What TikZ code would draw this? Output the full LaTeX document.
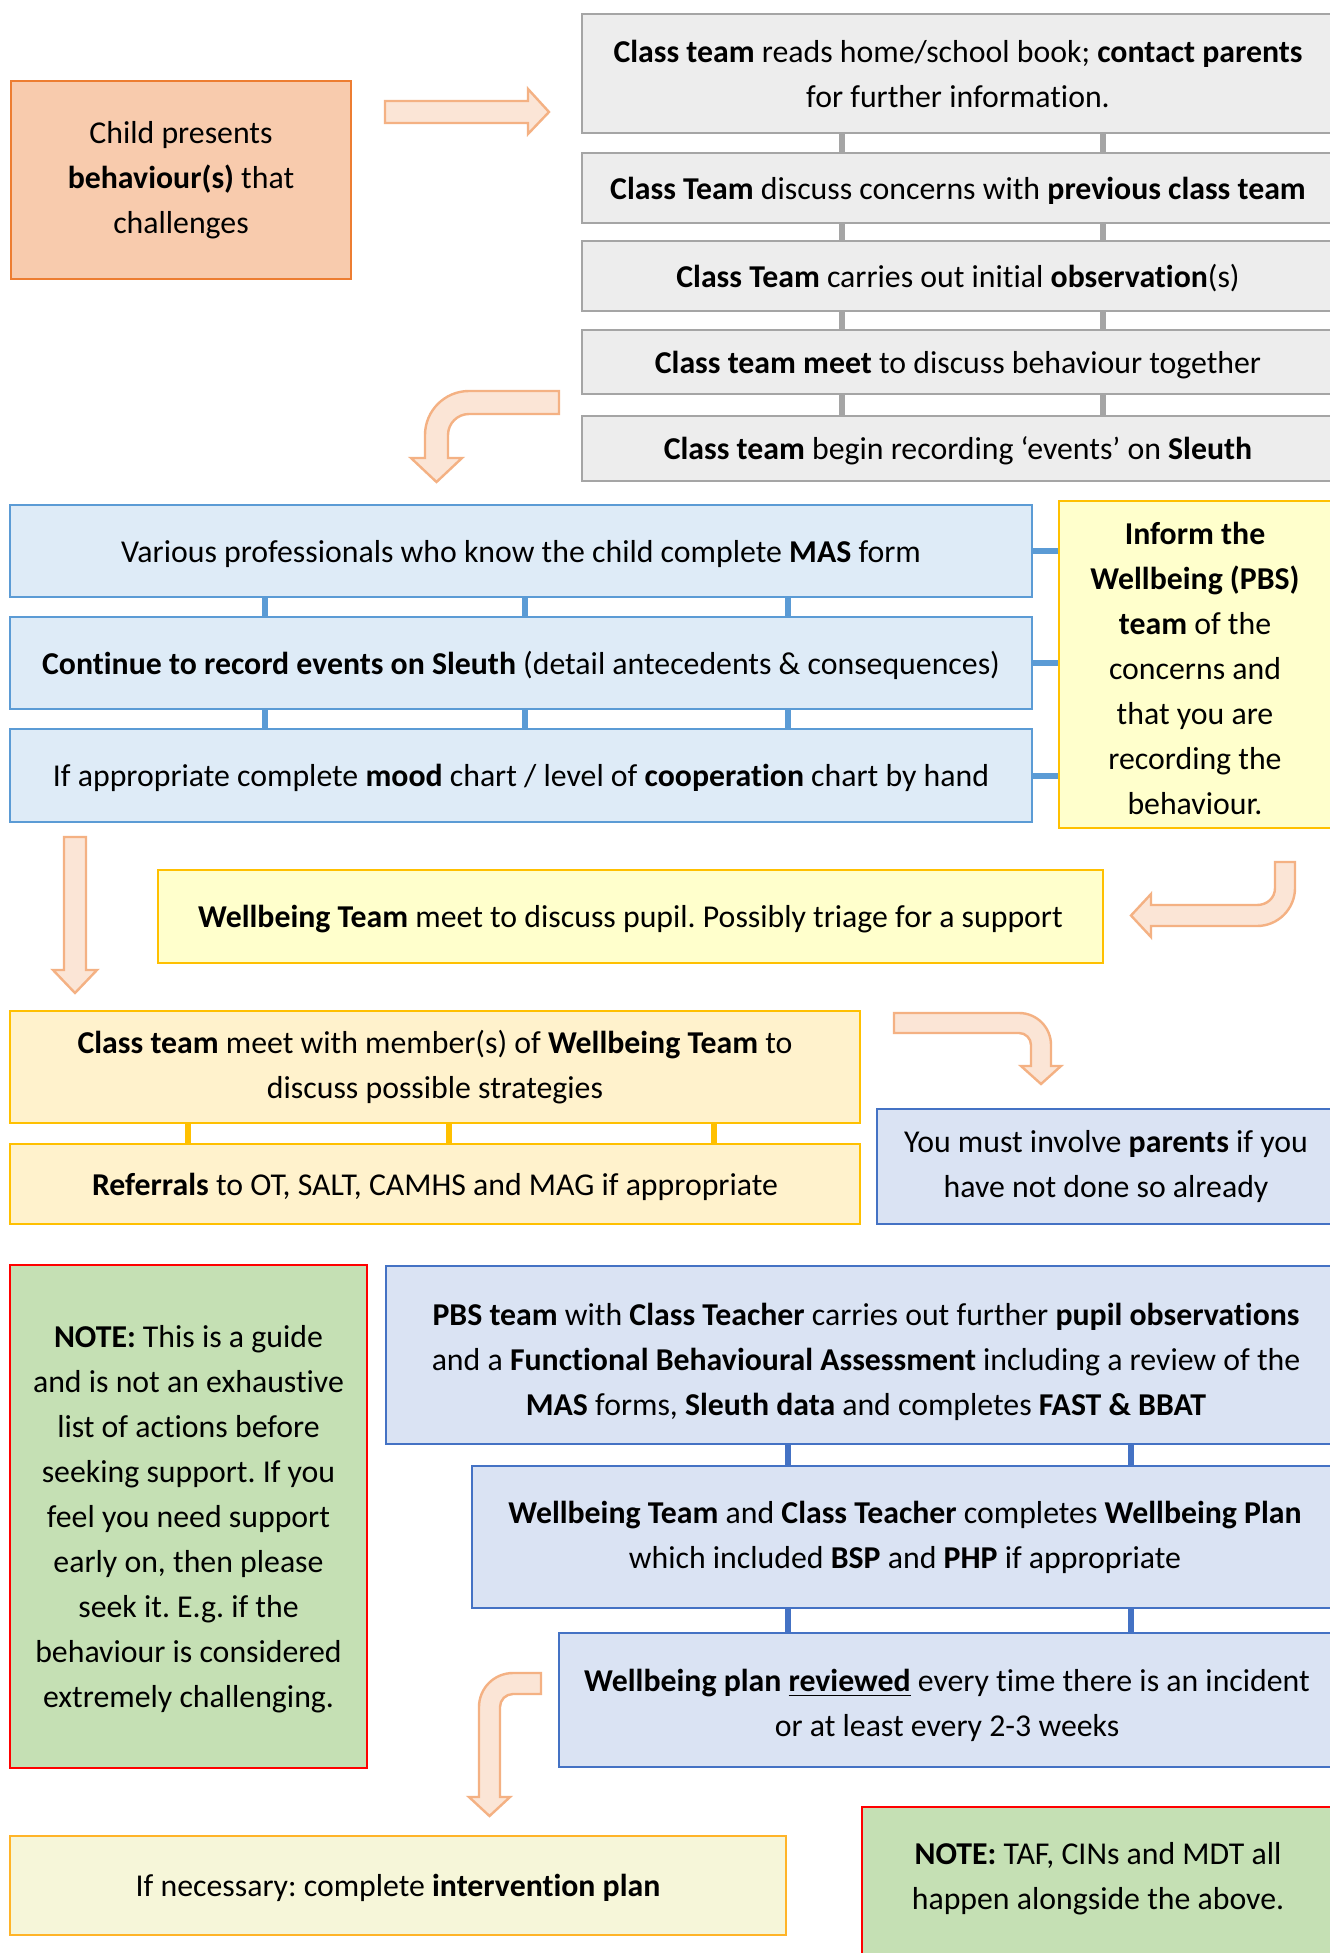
\documentclass[tikz,border=0pt]{standalone}
\usepackage{fontspec}
\setmainfont{Carlito}[Ligatures={TeX,NoCommon}]
\frenchspacing
\newcommand\padtop[1]{\rule{0pt}{#1}}
\definecolor{orangefill}{HTML}{F8CBAD}
\definecolor{orangeline}{HTML}{ED7D31}
\definecolor{arrowfill}{HTML}{FBE5D6}
\definecolor{arrowline}{HTML}{F4B183}
\definecolor{grayfill}{HTML}{EDEDED}
\definecolor{grayline}{HTML}{A5A5A5}
\definecolor{skyfill}{HTML}{DEEBF7}
\definecolor{skyline}{HTML}{5B9BD5}
\definecolor{lemonfill}{HTML}{FFFFCC}
\definecolor{goldline}{HTML}{FFC000}
\definecolor{creamfill}{HTML}{FFF2CC}
\definecolor{bluefill}{HTML}{DAE3F3}
\definecolor{blueline}{HTML}{4472C4}
\definecolor{greenfill}{HTML}{C5E0B4}
\definecolor{redline}{HTML}{FF0000}
\definecolor{palefill}{HTML}{F6F6D9}
\definecolor{ambline}{HTML}{FFB428}
\tikzset{
  box/.style={draw, line width=1.35pt, align=center, inner sep=0pt,
    font=\fontsize{15.9}{22.5}\selectfont},
  oneline/.style={text height=14pt},
  childbox/.style={box, draw=orangeline, fill=orangefill},
  graybox/.style={box, draw=grayline, fill=grayfill, minimum width=376pt},
  skybox/.style={box, draw=skyline, fill=skyfill, minimum width=511pt},
  lemonbox/.style={box, draw=goldline, fill=lemonfill},
  creambox/.style={box, draw=goldline, fill=creamfill, minimum width=425pt},
  bluebox/.style={box, draw=blueline, fill=bluefill},
  notebox/.style={box, draw=redline, fill=greenfill},
  palebox/.style={box, draw=ambline, fill=palefill},
  fatarrow/.style={draw=arrowline, fill=arrowfill, line width=1.2pt, line join=miter},
  link/.style={line width=3pt}
}
\begin{document}
\begin{tikzpicture}[x=0.5pt,y=-0.5pt]
  \path[use as bounding box, fill=white] (0,0) rectangle (1329,1953);

  \node[childbox, minimum width=170pt, minimum height=99pt] (child) at (181,180)
    {Child presents\\ \textbf{behaviour(s)} that\\ challenges};

  \node[graybox, minimum height=59.5pt] (g1) at (958,73.5)
    {\textbf{Class team} reads home/school book; \textbf{contact parents}\\ for further information.};
  \node[graybox, oneline, minimum height=35pt] (g2) at (958,188)
    {\textbf{Class Team} discuss concerns with \textbf{previous class team}};
  \node[graybox, oneline, minimum height=35pt] (g3) at (958,276)
    {\textbf{Class Team} carries out initial \textbf{observation}(s)};
  \node[graybox, oneline, minimum height=32pt] (g4) at (958,362)
    {\textbf{Class team meet} to discuss behaviour together};
  \node[graybox, oneline, minimum height=32.5pt] (g5) at (958,448.5)
    {\textbf{Class team} begin recording ‘events’ on \textbf{Sleuth}};

  \node[skybox, oneline, minimum height=46pt] (mas) at (521,551)
    {Various professionals who know the child complete \textbf{MAS} form};
  \node[skybox, oneline, minimum height=46pt] (sleuth) at (521,663)
    {\textbf{Continue to record events on Sleuth} (detail antecedents \& consequences)};
  \node[skybox, oneline, minimum height=46.5pt] (mood) at (521,775.5)
    {If appropriate complete \textbf{mood} chart / level of \textbf{cooperation} chart by hand};
  \node[lemonbox, minimum width=136pt, minimum height=163.5pt] (inform) at (1195,664.5)
    {\padtop{15.5pt}\textbf{Inform the}\\ \textbf{Wellbeing (PBS)}\\ \textbf{team} of the\\ concerns and\\ that you are\\ recording the\\ behaviour.};

  \node[lemonbox, oneline, minimum width=472.5pt, minimum height=46.5pt] (wbmeet) at (630.5,916.5)
    {\textbf{Wellbeing Team} meet to discuss pupil. Possibly triage for a support};

  \node[creambox, minimum height=56pt] (ctmeet) at (435,1067)
    {\textbf{Class team} meet with member(s) of \textbf{Wellbeing Team} to\\ discuss possible strategies};
  \node[creambox, oneline, minimum height=40pt] (refer) at (435,1184)
    {\textbf{Referrals} to OT, SALT, CAMHS and MAG if appropriate};
  \node[bluebox, minimum width=229pt, minimum height=57.5pt] (parents) at (1106,1166.5)
    {You must involve \textbf{parents} if you\\ have not done so already};

  \node[notebox, minimum width=178.5pt, minimum height=251.5pt] (note) at (188.5,1516.5)
    {\padtop{14pt}\textbf{NOTE:} This is a guide\\ and is not an exhaustive\\ list of actions before\\ seeking support. If you\\ feel you need support\\ early on, then please\\ seek it. E.g. if the\\ behaviour is considered\\ extremely challenging.};
  \node[bluebox, minimum width=480pt, minimum height=89pt] (pbs) at (866,1355)
    {\padtop{18pt}\textbf{PBS team} with \textbf{Class Teacher} carries out further \textbf{pupil observations}\\ and a \textbf{Functional Behavioural Assessment} including a review of the\\ \textbf{MAS} forms, \textbf{Sleuth data} and completes \textbf{FAST \& BBAT}};
  \node[bluebox, minimum width=433pt, minimum height=71pt] (wbplan) at (905,1537)
    {\textbf{Wellbeing Team} and \textbf{Class Teacher} completes \textbf{Wellbeing Plan}\\ which included \textbf{BSP} and \textbf{PHP} if appropriate};
  \node[bluebox, minimum width=388pt, minimum height=67pt] (review) at (947,1700)
    {\padtop{17pt}\textbf{Wellbeing plan \underline{reviewed}} every time there is an incident\\ or at least every 2-3 weeks};

  \node[palebox, oneline, minimum width=388pt, minimum height=49.5pt] (interv) at (398,1885.5)
    {If necessary: complete \textbf{intervention plan}};
  \node[notebox, minimum width=236pt, minimum height=91.5pt] (taf) at (1098,1898.5) {};
  \node[box, draw=none] (taftext) at (1098,1879)
    {\textbf{NOTE:} TAF, CINs and MDT all\\ happen alongside the above.};

  \coordinate (gx1) at (842,0);
  \coordinate (gx2) at (1103,0);
  \coordinate (sx1) at (265,0);
  \coordinate (sx2) at (525,0);
  \coordinate (sx3) at (788,0);
  \coordinate (cx1) at (188,0);
  \coordinate (cx2) at (449,0);
  \coordinate (cx3) at (714,0);
  \coordinate (px1) at (788,0);
  \coordinate (px2) at (1131,0);

  \begin{scope}[link, draw=grayline]
    \draw (g1.south -| gx1) -- (g2.north -| gx1);
    \draw (g1.south -| gx2) -- (g2.north -| gx2);
    \draw (g2.south -| gx1) -- (g3.north -| gx1);
    \draw (g2.south -| gx2) -- (g3.north -| gx2);
    \draw (g3.south -| gx1) -- (g4.north -| gx1);
    \draw (g3.south -| gx2) -- (g4.north -| gx2);
    \draw (g4.south -| gx1) -- (g5.north -| gx1);
    \draw (g4.south -| gx2) -- (g5.north -| gx2);
  \end{scope}
  \begin{scope}[link, draw=skyline]
    \draw (mas.south -| sx1) -- (sleuth.north -| sx1);
    \draw (mas.south -| sx2) -- (sleuth.north -| sx2);
    \draw (mas.south -| sx3) -- (sleuth.north -| sx3);
    \draw (sleuth.south -| sx1) -- (mood.north -| sx1);
    \draw (sleuth.south -| sx2) -- (mood.north -| sx2);
    \draw (sleuth.south -| sx3) -- (mood.north -| sx3);
    \draw (mas.east) -- (mas.east -| inform.west);
    \draw (sleuth.east) -- (sleuth.east -| inform.west);
    \draw (mood.east) -- (mood.east -| inform.west);
  \end{scope}
  \begin{scope}[link, draw=goldline]
    \draw (ctmeet.south -| cx1) -- (refer.north -| cx1);
    \draw (ctmeet.south -| cx2) -- (refer.north -| cx2);
    \draw (ctmeet.south -| cx3) -- (refer.north -| cx3);
  \end{scope}
  \begin{scope}[link, draw=blueline]
    \draw (pbs.south -| px1) -- (wbplan.north -| px1);
    \draw (pbs.south -| px2) -- (wbplan.north -| px2);
    \draw (wbplan.south -| px1) -- (review.north -| px1);
    \draw (wbplan.south -| px2) -- (review.north -| px2);
  \end{scope}

  \draw[fatarrow] (385,101) -- (528,101) -- (528,89) -- (549,112) -- (528,134)
    -- (528,123) -- (385,123) -- cycle;
  \draw[fatarrow] (559,391) -- (469,391) .. controls (444.7,391) and (425,410.7) .. (425,435)
    -- (425,458) -- (411,458) -- (436.5,482) -- (462,458) -- (448,458) -- (448,435)
    .. controls (448,423.4) and (457.4,414) .. (469,414) -- (559,414) -- cycle;
  \draw[fatarrow] (64,837) -- (86,837) -- (86,970) -- (97,970) -- (75,993) -- (53,970)
    -- (64,970) -- cycle;
  \draw[fatarrow] (1275,862) -- (1295,862) -- (1295,888) .. controls (1295,909) and (1278,926) .. (1257,926)
    -- (1151,926) -- (1151,937) -- (1131,915.5) -- (1151,894) -- (1151,905) -- (1257,905)
    .. controls (1267,905) and (1275,898) .. (1275,888) -- cycle;
  \draw[fatarrow] (894,1013) -- (1019,1013) .. controls (1036.7,1013) and (1051,1027.3) .. (1051,1045)
    -- (1051,1066) -- (1061,1066) -- (1041,1084) -- (1021,1066) -- (1031,1066) -- (1031,1045)
    .. controls (1031,1038.4) and (1025.6,1033) .. (1019,1033) -- (894,1033) -- cycle;
  \draw[fatarrow] (541,1673) -- (513,1673) .. controls (494.2,1673) and (479,1688.2) .. (479,1707)
    -- (479,1797) -- (469,1797) -- (489.5,1816) -- (510,1797) -- (500,1797) -- (500,1707)
    .. controls (500,1699.8) and (505.8,1694) .. (513,1694) -- (541,1694) -- cycle;
\end{tikzpicture}
\end{document}
